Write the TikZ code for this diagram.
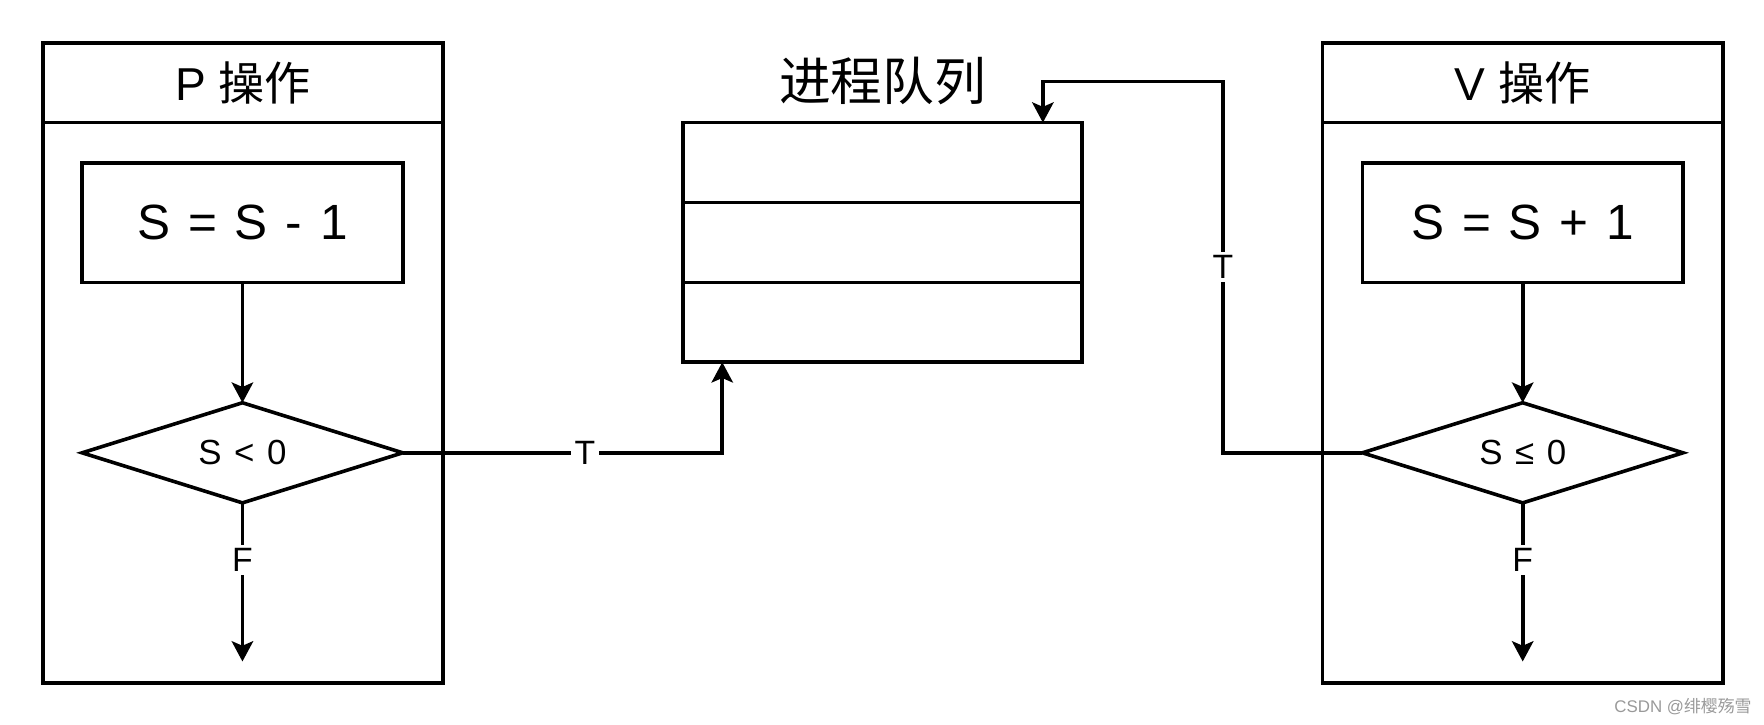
\documentclass[tikz,border=0pt]{standalone}
\usepackage{fontspec}
\setmainfont{Liberation Sans}
\newfontfamily\cjk{Noto Sans CJK SC}
\usepackage{xcolor}
\usetikzlibrary{shapes,arrows,positioning,fit,calc,arrows.meta}
\newcommand\widesp{\spaceskip=.36em\relax}

\begin{document}
\begin{tikzpicture}[
    x=1pt, y=-1pt,
    every node/.style={inner sep=0pt, outer sep=0pt},
    box/.style={draw, line width=3.2pt, rectangle},
    head/.style={box, minimum width=356pt, minimum height=71pt, font=\fontsize{41}{44}\selectfont},
    body/.style={box, minimum width=356pt, minimum height=498pt},
    stepbox/.style={box, minimum width=285pt, minimum height=106pt, font=\fontsize{44}{48}\selectfont\widesp},
    cond/.style={draw, line width=3.2pt, diamond, aspect=3.2, minimum width=285pt, minimum height=89pt, font=\fontsize{31}{34}\selectfont\widesp},
    cell/.style={box, minimum width=355pt, minimum height=71pt},
    lab/.style={fill=white, inner sep=3pt, font=\fontsize{30}{32}\selectfont},
    flow/.style={line width=3.2pt, -{Stealth[length=18pt, width=19pt, inset=4pt]}}
]
\useasboundingbox (0,0) rectangle (1568,644);

% P operation
\node[head] (ptitle) at (216,73.5) {P {\cjk 操作}};
\node[body, below=0pt of ptitle] (pbody) {};
\node[stepbox] (pstep) at (215.5,198) {S = S - 1};
\node[cond] (pcond) at (215.5,402.5) {S < 0};
\coordinate (pend) at (215.5,588);

% process queue
\node[font=\fontsize{46}{50}\selectfont\cjk] (qtitle) at (784.5,72) {进程队列};
\node[cell] (q1) at (784.5,144.5) {};
\node[cell, below=0pt of q1] (q2) {};
\node[cell, below=0pt of q2] (q3) {};
\coordinate (qin) at ($(q3.south west)+(35,0)$);
\coordinate (qout) at ($(q1.north west)+(320,0)$);

% V operation
\node[head] (vtitle) at (1353.5,73.5) {V {\cjk 操作}};
\node[body, below=0pt of vtitle] (vbody) {};
\node[stepbox] (vstep) at (1353.5,198) {S = S + 1};
\node[cond] (vcond) at (1353.5,402.5) {S ≤ 0};
\coordinate (vend) at (1353.5,588);

\draw[flow] (pstep) -- (pcond);
\draw[flow] (pcond) -- node[lab, pos=0.36] {F} (pend);
\draw[flow] (pcond.east) -- node[lab, pos=0.57] {T} (pcond.east -| qin) -- (qin);

\draw[flow] (vstep) -- (vcond);
\draw[flow] (vcond) -- node[lab, pos=0.36] {F} (vend);
\draw[flow] (vcond.west) -- ++(-124,0) -- node[lab] {T} ++(0,-330) -| (qout);

\node[text=black!40, font=\fontsize{15}{17}\selectfont] (mark) at (1496,628) {CSDN @{\cjk 绯樱殇雪}};
\end{tikzpicture}
\end{document}
